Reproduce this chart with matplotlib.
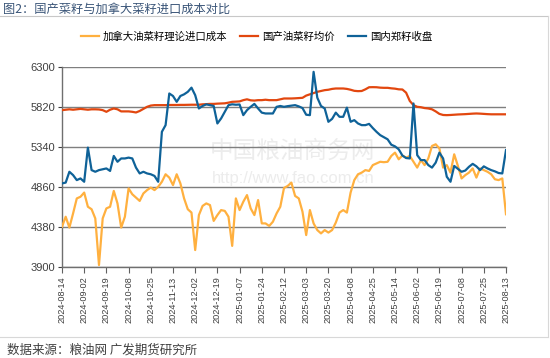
import matplotlib.pyplot as plt
import numpy as np

plt.rcParams['font.family'] = ['Liberation Sans', 'Noto Sans CJK SC', 'DejaVu Sans']

# 日期刻度（每6个数据点一个刻度）
tick_labels = ["2024-08-14", "2024-09-02", "2024-09-19", "2024-10-08", "2024-10-25",
               "2024-11-13", "2024-12-02", "2024-12-19", "2025-01-07", "2025-01-24",
               "2025-02-12", "2025-03-03", "2025-03-20", "2025-04-08", "2025-04-25",
               "2025-05-14", "2025-06-02", "2025-06-19", "2025-07-08", "2025-07-25",
               "2025-08-13"]

# 加拿大油菜籽理论进口成本
canada_cost = [4380, 4500, 4370, 4540, 4720, 4740, 4790, 4620, 4590, 4480,
               3920, 4480, 4600, 4620, 4810, 4660, 4370, 4500, 4840, 4770,
               4730, 4690, 4780, 4820, 4850, 4820, 4860, 4920, 5010, 4970,
               4880, 5010, 4900, 4720, 4590, 4550, 4100, 4520, 4630, 4660,
               4640, 4450, 4520, 4580, 4570, 4500, 4150, 4720, 4580, 4680,
               4760, 4600, 4520, 4700, 4420, 4420, 4390, 4440, 4540, 4620,
               4845, 4870, 4910, 4750, 4720, 4560, 4280, 4580, 4420, 4340,
               4300, 4340, 4310, 4340, 4430, 4550, 4580, 4550, 4790, 4940,
               5010, 5030, 5060, 5050, 5120, 5140, 5160, 5155, 5160, 5230,
               5270, 5190, 5235, 5210, 5230, 5160, 5090, 5180, 5120, 5200,
               5350, 5370, 5320, 5090, 5120, 5030, 5250, 5110, 4960, 5000,
               5030, 5080, 4970, 5080, 5060, 5040, 5010, 4950, 4940, 4960,
               4530]

# 国产油菜籽均价
domestic_price = [5780, 5785, 5790, 5785, 5790, 5795, 5790, 5785, 5790, 5790,
                  5788, 5780, 5760, 5785, 5800, 5790, 5765, 5765, 5765, 5760,
                  5752, 5770, 5795, 5820, 5835, 5840, 5840, 5840, 5840, 5842,
                  5842, 5842, 5843, 5843, 5844, 5845, 5845, 5845, 5850, 5852,
                  5855, 5855, 5858, 5860, 5862, 5870, 5880, 5882, 5885, 5900,
                  5910, 5898, 5895, 5900, 5900, 5905, 5900, 5900, 5900, 5910,
                  5920, 5920, 5920, 5922, 5925, 5928, 5955, 5970, 5985, 6000,
                  6010, 6020, 6025, 6035, 6040, 6040, 6040, 6035, 6025, 6012,
                  6008, 6010, 6030, 6055, 6056, 6055, 6050, 6048, 6048, 6042,
                  6038, 6030, 6028, 5990, 5890, 5840, 5820, 5815, 5805, 5800,
                  5790, 5765, 5735, 5722, 5720, 5722, 5725, 5728, 5730, 5732,
                  5735, 5738, 5740, 5738, 5735, 5732, 5730, 5730, 5730, 5730,
                  5730]

# 国内郑籽收盘
zce_close = [4900, 4910, 5040, 5000, 4940, 4960, 4920, 5330, 5060, 5040,
             5060, 5070, 5080, 5050, 5230, 5160, 5200, 5200, 5210, 5200,
             5090, 5020, 5040, 5020, 5010, 4990, 4920, 5520, 5600, 5980,
             5950, 5880, 5950, 5970, 6000, 6050, 5960, 5800, 5830, 5850,
             5840, 5830, 5620, 5680, 5760, 5840, 5850, 5845, 5848, 5720,
             5780, 5820, 5855, 5800, 5750, 5740, 5740, 5740, 5820, 5830,
             5820, 5828, 5834, 5840, 5825, 5805, 5725, 5720, 6240, 5930,
             5830, 5800, 5640, 5675, 5750, 5700, 5700, 5810, 5640, 5660,
             5620, 5600, 5600, 5615, 5565, 5520, 5480, 5455, 5430, 5365,
             5345, 5310, 5235, 5205, 5200, 5860, 5240, 5180, 5180, 5120,
             5090, 5150, 5270, 5200, 4980, 4920, 5110, 5075, 5040, 5055,
             5100, 5135, 5105, 5060, 5105, 5080, 5060, 5045, 5025, 5020,
             5300]

x = np.arange(len(zce_close))
tick_pos = np.arange(0, len(zce_close), 6)

fig = plt.figure(figsize=(5.5, 3.58), dpi=100)
ax = fig.add_axes([0.1127, 0.255, 0.8073, 0.5583])

# 水印
ax.text(0.52, 0.58, "中国粮油商务网", transform=ax.transAxes, fontsize=17,
        color='#ececec', family=['Noto Sans CJK SC'], ha='center', va='center', zorder=0)
ax.text(0.52, 0.44, "http://www.fao.com.cn", transform=ax.transAxes, fontsize=12,
        color='#ececec', ha='center', va='center', zorder=0)

ax.plot(x, canada_cost, color='#FFB03F', lw=1.6, label='加拿大油菜籽理论进口成本', zorder=3)
ax.plot(x, domestic_price, color='#E2470F', lw=1.6, label='国产油菜籽均价', zorder=3)
ax.plot(x, zce_close, color='#0F6298', lw=1.6, label='国内郑籽收盘', zorder=4)

ax.set_xlim(0, len(zce_close) - 1)
ax.set_ylim(3900, 6300)
ax.set_yticks([3900, 4380, 4860, 5340, 5820, 6300])
ax.set_xticks(tick_pos)
ax.set_xticklabels(tick_labels, rotation=90, fontsize=6.6, color='#404040')
ax.tick_params(axis='y', labelsize=8, colors='#404040', length=3, width=0.8, pad=2)
ax.tick_params(axis='x', length=4, width=0.8, color='#606060', pad=3)
ax.grid(axis='y', color='#7f7f7f', lw=1.0, zorder=1)
for s in ['top', 'right']:
    ax.spines[s].set_visible(False)
for s in ['left', 'bottom']:
    ax.spines[s].set_color('#6f6f6f')
    ax.spines[s].set_linewidth(1.0)

ax.legend(loc='center', bbox_to_anchor=(0.438, 1.152), ncol=3, frameon=False,
          prop={'family': ['Noto Sans CJK SC'], 'size': 7.5}, handlelength=1.75,
          columnspacing=1.2, handletextpad=0.4)

# 标题与来源
fig.text(0.006, 0.975, "图2：国产菜籽与加拿大菜籽进口成本对比", fontsize=8.8,
         color='#3a5578', family=['Noto Sans CJK SC'], ha='left', va='center')
fig.add_artist(plt.Line2D([0, 0.997], [0.956, 0.956], color='#c8c8c8', lw=0.8))
fig.add_artist(plt.Line2D([0, 0.997], [0.059, 0.059], color='#d8d8d8', lw=0.8))
fig.add_artist(plt.Line2D([0.997, 0.997], [0.059, 0.956], color='#d8d8d8', lw=0.8))
fig.text(0.012, 0.022, "数据来源：粮油网 广发期货研究所", fontsize=9,
         color='#404040', family=['Noto Sans CJK SC'], ha='left', va='center')

fig.savefig('out.png', dpi=100)
